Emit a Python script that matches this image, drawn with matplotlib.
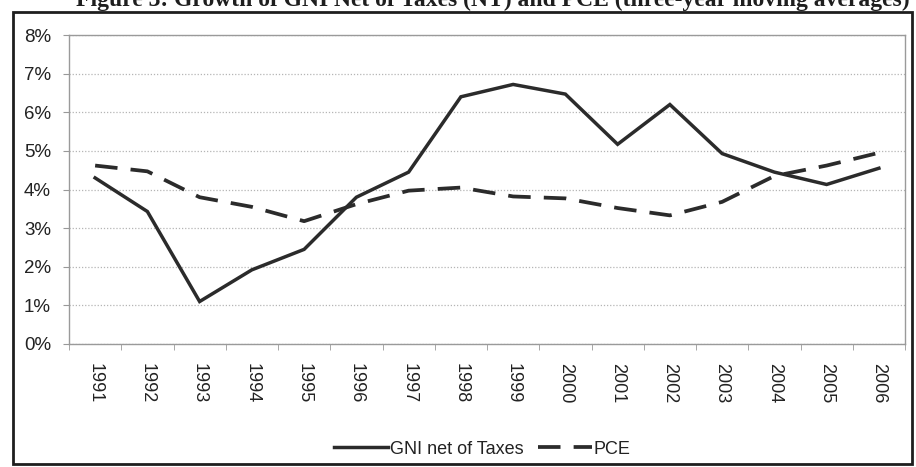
import matplotlib
matplotlib.use("Agg")
import matplotlib.pyplot as plt
from matplotlib.patches import Rectangle
from matplotlib.ticker import FixedLocator, PercentFormatter

years = ["1991", "1992", "1993", "1994", "1995", "1996", "1997", "1998",
         "1999", "2000", "2001", "2002", "2003", "2004", "2005", "2006"]
gni_net_of_taxes = [4.3, 3.43, 1.1, 1.92, 2.45, 3.8, 4.45, 6.4,
                    6.72, 6.47, 5.17, 6.2, 4.93, 4.45, 4.13, 4.55]
pce = [4.62, 4.47, 3.8, 3.55, 3.18, 3.62, 3.97, 4.05,
       3.82, 3.77, 3.52, 3.33, 3.68, 4.35, 4.62, 4.95]
y_ticks = [0, 1, 2, 3, 4, 5, 6, 7, 8]
title = "Figure 3: Growth of GNI Net of Taxes (NT) and PCE (three-year moving averages)"

plt.rcParams["font.family"] = ["Liberation Sans", "DejaVu Sans"]

fig = plt.figure(figsize=(9.16, 4.67), dpi=100)
W, H = 916, 467
ax = fig.add_axes([69 / W, 1 - 344 / H, (905 - 69) / W, (344 - 35) / H])

x = list(range(len(years)))
line_col = "#2b2b2b"
ax.plot(x, gni_net_of_taxes, color=line_col, lw=2.5, solid_joinstyle="miter",
        label="GNI net of Taxes")
ax.plot(x, pce, color=line_col, lw=2.7, dashes=(6, 3.5),
        label="PCE")

ax.set_xlim(-0.5, len(years) - 0.5)
ax.set_ylim(0, 8)
ax.set_yticks(y_ticks)
ax.yaxis.set_major_formatter(PercentFormatter(decimals=0))
ax.set_xticks(x)
ax.set_xticklabels(years, rotation=270, fontsize=13, color="#222222")
ax.xaxis.set_minor_locator(FixedLocator([i - 0.5 for i in range(len(years) + 1)]))
ax.tick_params(axis="x", which="major", length=0, pad=14)
ax.tick_params(axis="x", which="minor", length=4, color="#999999", direction="out")
ax.tick_params(axis="y", length=4, color="#999999", labelsize=13.5, labelcolor="#222222", pad=9)

ax.grid(axis="y", color="#b5b5b5", lw=0.9, ls=(0, (1, 1.5)))
ax.set_axisbelow(True)
for side, sp in ax.spines.items():
    sp.set_color("#9a9a9a")
    sp.set_linewidth(1.0)

leg = fig.legend(loc="center", bbox_to_anchor=(482 / W, 1 - 449 / H), ncol=2,
                 frameon=False, fontsize=13, handlelength=3.0, columnspacing=0.8,
                 handletextpad=0.1)
for t in leg.get_texts():
    t.set_color("#222222")

# outer frame around chart
fig.patches.append(Rectangle((13 / W, 1 - 464 / H), (912 - 13) / W, (464 - 12) / H,
                             transform=fig.transFigure, fill=False,
                             edgecolor="#1e1e1e", lw=2.0))

fig.text(910 / W, 1 - 6 / H, title, ha="right", va="baseline", fontsize=17,
         fontweight="bold", family=["Liberation Serif", "DejaVu Serif"], color="#1e1e1e")

fig.savefig("out.png", dpi=100)
